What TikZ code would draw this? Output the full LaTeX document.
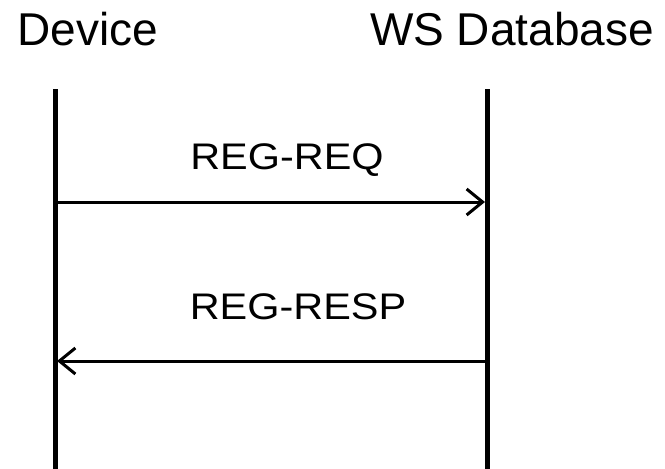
\documentclass[tikz,border=0pt]{standalone}
\usepackage{fontspec}
\setmainfont{Liberation Sans}
\usetikzlibrary{arrows.meta}
\begin{document}
\begin{tikzpicture}[x=1pt,y=-1pt]
	\useasboundingbox (0,0) rectangle (665,469);
	\def\ya{202}
	\def\yb{361}
	\tikzset{hd/.style={anchor=base,inner sep=0pt,font=\fontsize{46}{46}\selectfont},
		msg/.style={anchor=base,inner sep=0pt,font=\fontsize{37}{37}\selectfont},
		life/.style={line width=5pt},
		call/.style={line width=3pt,-{Straight Barb[length=16pt,width=26pt]}}}
	\path(88,45)node[hd](dev){Device}(512,45)node[hd](db){WS Database};
	\path(55,89)coordinate(devT)(55,469)coordinate(devB)(487,89)coordinate(dbT)(487,469)coordinate(dbB);
	\path(55,\ya)coordinate(reqS)(485,\ya)coordinate(reqE)(487,\yb)coordinate(rspS)(57,\yb)coordinate(rspE);
	\foreach \x/\y in {devT/devB,dbT/dbB}
	\draw[life](\x)--(\y);
	\foreach \x/\y in {reqS/reqE,rspS/rspE}
	\draw[call](\x)--(\y);
	\path(287,169)node[msg](req){\scalebox{1.12}[1]{REG-REQ}}(298,319)node[msg](rsp){\scalebox{1.12}[1]{REG-RESP}};
\end{tikzpicture}
\end{document}
